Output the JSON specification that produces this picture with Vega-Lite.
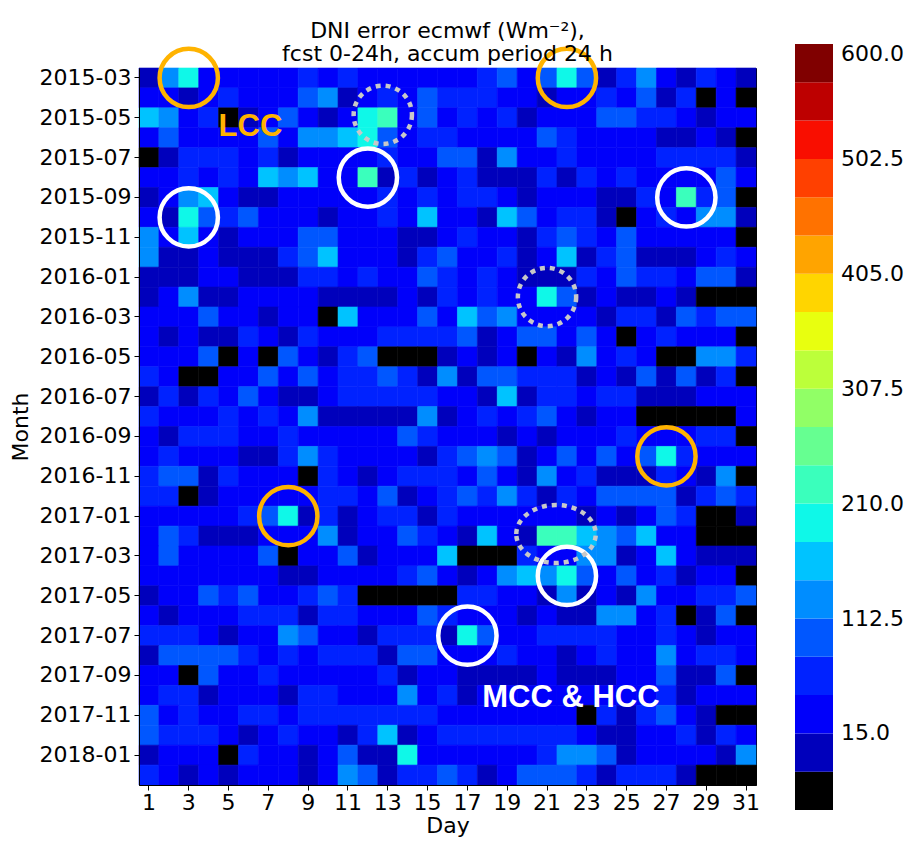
{
  "$schema": "https://vega.github.io/schema/vega-lite/v6.json",
  "width": 617,
  "height": 717,
  "autosize": {"type": "none"},
  "padding": {"left": 139, "top": 68, "right": 150, "bottom": 59},
  "background": "white",
  "title": {
    "text": ["DNI error ecmwf (Wm⁻²),", "fcst 0-24h, accum period 24 h"],
    "font": "DejaVu Sans",
    "fontSize": 22,
    "fontWeight": "normal",
    "color": "black",
    "anchor": "middle",
    "lineHeight": 23,
    "offset": -26
  },
  "config": {
    "view": {"stroke": "black", "strokeWidth": 1},
    "font": "DejaVu Sans",
    "axis": {
      "labelFont": "DejaVu Sans",
      "labelFontSize": 22,
      "labelColor": "black",
      "tickColor": "black",
      "tickSize": 5,
      "tickWidth": 1,
      "domainColor": "black",
      "titleFont": "DejaVu Sans",
      "titleFontSize": 22,
      "titleFontWeight": "normal",
      "titleColor": "black",
      "grid": false,
      "labelPadding": 3
    }
  },
  "encoding": {
    "x": {
      "field": "d",
      "type": "ordinal",
      "scale": {"domain": [1,2,3,4,5,6,7,8,9,10,11,12,13,14,15,16,17,18,19,20,21,22,23,24,25,26,27,28,29,30,31], "paddingInner": 0, "paddingOuter": 0},
      "axis": {"values": [1,3,5,7,9,11,13,15,17,19,21,23,25,27,29,31], "labelAngle": 0, "title": "Day", "titlePadding": 2, "labelPadding": 2}
    },
    "y": {
      "field": "m",
      "type": "ordinal",
      "scale": {"domain": ["2015-03","2015-04","2015-05","2015-06","2015-07","2015-08","2015-09","2015-10","2015-11","2015-12","2016-01","2016-02","2016-03","2016-04","2016-05","2016-06","2016-07","2016-08","2016-09","2016-10","2016-11","2016-12","2017-01","2017-02","2017-03","2017-04","2017-05","2017-06","2017-07","2017-08","2017-09","2017-10","2017-11","2017-12","2018-01","2018-02"], "paddingInner": 0, "paddingOuter": 0},
      "axis": {"values": ["2015-03","2015-05","2015-07","2015-09","2015-11","2016-01","2016-03","2016-05","2016-07","2016-09","2016-11","2017-01","2017-03","2017-05","2017-07","2017-09","2017-11","2018-01"], "title": "Month", "titlePadding": 7}
    }
  },
  "layer": [
    {
      "data": {"values": [
        {"m":"2015-03","d":[1,2,3,4,5,6,7,8,9,10,11,12,13,14,15,16,17,18,19,20,21,22,23,24,25,26,27,28,29,30,31],"v":[0,128,195,30,30,30,30,30,62,30,62,30,30,30,30,30,30,62,95,30,95,195,95,0,62,128,30,0,62,30,0]},
        {"m":"2015-04","d":[1,2,3,4,5,6,7,8,9,10,11,12,13,14,15,16,17,18,19,20,21,22,23,24,25,26,27,28,29,30,31],"v":[30,30,0,30,62,30,30,30,95,128,0,30,62,30,95,62,62,62,30,30,0,30,30,62,30,95,0,62,-30,30,-30]},
        {"m":"2015-05","d":[1,2,3,4,5,6,7,8,9,10,11,12,13,14,15,16,17,18,19,20,21,22,23,24,25,26,27,28,29,30,31],"v":[160,128,30,62,-30,0,30,95,30,0,30,195,225,30,95,30,62,30,62,0,30,30,30,95,95,62,62,30,0,30,30]},
        {"m":"2015-06","d":[1,2,3,4,5,6,7,8,9,10,11,12,13,14,15,16,17,18,19,20,21,22,23,24,25,26,27,28,29,30,31],"v":[30,95,30,30,30,30,95,30,128,128,160,195,95,30,62,62,30,30,30,30,95,62,30,30,30,30,0,0,30,0,-30]},
        {"m":"2015-07","d":[1,2,3,4,5,6,7,8,9,10,11,12,13,14,15,16,17,18,19,20,21,22,23,24,25,26,27,28,29,30,31],"v":[-30,0,62,62,62,30,62,0,30,30,30,30,62,30,30,95,95,0,128,30,30,62,30,30,30,30,62,62,62,62,0]},
        {"m":"2015-08","d":[1,2,3,4,5,6,7,8,9,10,11,12,13,14,15,16,17,18,19,20,21,22,23,24,25,26,27,28,29,30,31],"v":[30,30,62,30,62,30,160,128,160,30,30,225,0,62,0,30,62,0,0,0,62,0,62,30,62,30,30,30,30,95,30]},
        {"m":"2015-09","d":[1,2,3,4,5,6,7,8,9,10,11,12,13,14,15,16,17,18,19,20,21,22,23,24,25,26,27,28,29,30,31],"v":[0,30,128,160,30,0,0,30,30,30,30,30,62,30,62,30,62,62,30,0,30,30,30,0,0,62,30,225,62,95,-30]},
        {"m":"2015-10","d":[1,2,3,4,5,6,7,8,9,10,11,12,13,14,15,16,17,18,19,20,21,22,23,24,25,26,27,28,29,30,31],"v":[30,0,195,95,62,95,30,30,30,0,30,30,62,30,160,30,30,0,160,95,30,62,62,0,-30,30,62,30,128,128,0]},
        {"m":"2015-11","d":[1,2,3,4,5,6,7,8,9,10,11,12,13,14,15,16,17,18,19,20,21,22,23,24,25,26,27,28,29,30,31],"v":[128,30,160,30,0,30,30,30,95,95,30,30,30,0,0,30,62,30,30,0,62,95,62,30,95,30,30,30,30,30,-30]},
        {"m":"2015-12","d":[1,2,3,4,5,6,7,8,9,10,11,12,13,14,15,16,17,18,19,20,21,22,23,24,25,26,27,28,29,30,31],"v":[128,0,0,30,0,0,0,62,95,160,30,30,30,0,62,95,30,30,62,0,30,160,0,62,95,0,0,0,30,62,30]},
        {"m":"2016-01","d":[1,2,3,4,5,6,7,8,9,10,11,12,13,14,15,16,17,18,19,20,21,22,23,24,25,26,27,28,29,30,31],"v":[0,0,0,30,30,0,0,0,62,62,30,62,30,30,95,62,30,62,30,0,0,0,62,30,95,62,62,30,95,95,0]},
        {"m":"2016-02","d":[1,2,3,4,5,6,7,8,9,10,11,12,13,14,15,16,17,18,19,20,21,22,23,24,25,26,27,28,29,30,31],"v":[0,30,128,0,0,30,30,30,30,0,0,0,0,30,0,62,30,62,30,30,195,95,0,30,0,0,30,0,-30,-30,-30]},
        {"m":"2016-03","d":[1,2,3,4,5,6,7,8,9,10,11,12,13,14,15,16,17,18,19,20,21,22,23,24,25,26,27,28,29,30,31],"v":[30,30,30,95,30,30,0,30,30,-30,160,30,30,30,95,30,160,95,128,30,30,30,30,0,62,62,0,95,62,95,95]},
        {"m":"2016-04","d":[1,2,3,4,5,6,7,8,9,10,11,12,13,14,15,16,17,18,19,20,21,22,23,24,25,26,27,28,29,30,31],"v":[30,0,30,0,0,62,30,0,62,30,30,30,62,62,62,62,95,0,30,95,95,30,95,30,-30,30,62,30,30,30,-30]},
        {"m":"2016-05","d":[1,2,3,4,5,6,7,8,9,10,11,12,13,14,15,16,17,18,19,20,21,22,23,24,25,26,27,28,29,30,31],"v":[30,30,30,95,-30,30,-30,95,30,0,62,95,-30,-30,-30,0,30,0,30,-30,30,0,128,30,62,30,-30,-30,128,128,62]},
        {"m":"2016-06","d":[1,2,3,4,5,6,7,8,9,10,11,12,13,14,15,16,17,18,19,20,21,22,23,24,25,26,27,28,29,30,31],"v":[62,30,-30,-30,30,30,95,30,95,30,62,62,95,62,0,128,0,95,95,62,62,62,0,30,0,95,0,95,0,62,-30]},
        {"m":"2016-07","d":[1,2,3,4,5,6,7,8,9,10,11,12,13,14,15,16,17,18,19,20,21,22,23,24,25,26,27,28,29,30,31],"v":[0,62,0,62,30,95,30,0,0,30,62,62,62,62,62,30,30,0,160,0,62,62,30,62,62,0,0,0,30,30,30]},
        {"m":"2016-08","d":[1,2,3,4,5,6,7,8,9,10,11,12,13,14,15,16,17,18,19,20,21,22,23,24,25,26,27,28,29,30,31],"v":[62,30,30,30,62,30,62,30,128,0,0,0,0,0,128,0,30,62,30,62,95,30,0,30,30,-30,-30,-30,-30,-30,30]},
        {"m":"2016-09","d":[1,2,3,4,5,6,7,8,9,10,11,12,13,14,15,16,17,18,19,20,21,22,23,24,25,26,27,28,29,30,31],"v":[30,0,62,62,62,30,30,62,30,30,30,30,30,95,62,30,30,30,0,30,0,30,30,30,62,30,30,30,62,62,-30]},
        {"m":"2016-10","d":[1,2,3,4,5,6,7,8,9,10,11,12,13,14,15,16,17,18,19,20,21,22,23,24,25,26,27,28,29,30,31],"v":[30,62,30,30,30,0,0,62,128,62,30,30,30,30,0,62,95,128,95,0,30,95,30,95,30,95,195,62,30,30,30]},
        {"m":"2016-11","d":[1,2,3,4,5,6,7,8,9,10,11,12,13,14,15,16,17,18,19,20,21,22,23,24,25,26,27,28,29,30,31],"v":[62,95,95,0,62,30,30,30,-30,62,30,0,30,62,62,62,30,95,30,0,128,30,62,0,0,0,62,30,0,128,-30]},
        {"m":"2016-12","d":[1,2,3,4,5,6,7,8,9,10,11,12,13,14,15,16,17,18,19,20,21,22,23,24,25,26,27,28,29,30,31],"v":[62,62,-30,0,30,30,30,30,30,62,62,30,95,0,30,62,95,62,128,62,0,62,30,95,95,95,95,0,62,95,62]},
        {"m":"2017-01","d":[1,2,3,4,5,6,7,8,9,10,11,12,13,14,15,16,17,18,19,20,21,22,23,24,25,26,27,28,29,30,31],"v":[30,30,30,30,30,62,95,195,0,62,0,30,62,62,0,62,30,30,30,30,30,30,0,30,0,30,95,62,-30,-30,0]},
        {"m":"2017-02","d":[1,2,3,4,5,6,7,8,9,10,11,12,13,14,15,16,17,18,19,20,21,22,23,24,25,26,27,28,29,30,31],"v":[30,95,62,0,0,0,30,30,30,128,0,30,30,95,62,30,0,160,30,0,225,225,160,128,95,160,30,30,-30,-30,-30]},
        {"m":"2017-03","d":[1,2,3,4,5,6,7,8,9,10,11,12,13,14,15,16,17,18,19,20,21,22,23,24,25,26,27,28,29,30,31],"v":[30,95,30,30,30,30,95,-30,30,30,95,0,30,30,30,160,-30,-30,-30,62,30,30,128,128,0,30,160,30,0,0,0]},
        {"m":"2017-04","d":[1,2,3,4,5,6,7,8,9,10,11,12,13,14,15,16,17,18,19,20,21,22,23,24,25,26,27,28,29,30,31],"v":[30,30,30,30,30,30,30,0,0,30,30,30,30,62,95,30,0,30,128,160,128,195,95,30,95,30,62,0,30,30,-30]},
        {"m":"2017-05","d":[1,2,3,4,5,6,7,8,9,10,11,12,13,14,15,16,17,18,19,20,21,22,23,24,25,26,27,28,29,30,31],"v":[0,30,30,95,62,95,30,30,62,95,62,-30,-30,-30,-30,-30,62,62,30,30,0,128,0,30,0,128,30,30,62,62,95]},
        {"m":"2017-06","d":[1,2,3,4,5,6,7,8,9,10,11,12,13,14,15,16,17,18,19,20,21,22,23,24,25,26,27,28,29,30,31],"v":[30,0,30,30,30,62,62,62,0,62,62,30,30,30,95,62,30,30,30,0,30,0,0,128,128,30,62,-30,0,95,-30]},
        {"m":"2017-07","d":[1,2,3,4,5,6,7,8,9,10,11,12,13,14,15,16,17,18,19,20,21,22,23,24,25,26,27,28,29,30,31],"v":[62,62,62,30,0,30,30,128,95,30,30,0,62,62,62,0,195,95,30,30,62,62,62,62,30,30,62,30,0,30,30]},
        {"m":"2017-08","d":[1,2,3,4,5,6,7,8,9,10,11,12,13,14,15,16,17,18,19,20,21,22,23,24,25,26,27,28,29,30,31],"v":[0,95,95,95,95,62,30,62,30,62,62,62,0,95,95,30,30,30,62,30,30,0,30,62,30,30,128,30,62,62,30]},
        {"m":"2017-09","d":[1,2,3,4,5,6,7,8,9,10,11,12,13,14,15,16,17,18,19,20,21,22,23,24,25,26,27,28,29,30,31],"v":[30,30,-30,95,30,30,62,30,30,30,30,30,62,0,30,30,0,0,0,0,30,0,0,0,30,30,95,0,0,95,-30]},
        {"m":"2017-10","d":[1,2,3,4,5,6,7,8,9,10,11,12,13,14,15,16,17,18,19,20,21,22,23,24,25,26,27,28,29,30,31],"v":[30,62,62,0,30,30,30,0,62,62,30,30,30,128,30,62,0,30,30,30,30,30,30,30,30,30,62,0,30,30,30]},
        {"m":"2017-11","d":[1,2,3,4,5,6,7,8,9,10,11,12,13,14,15,16,17,18,19,20,21,22,23,24,25,26,27,28,29,30,31],"v":[95,30,62,30,30,62,62,30,62,62,62,62,62,62,62,30,30,30,30,30,30,30,-30,62,0,62,95,30,0,-30,-30]},
        {"m":"2017-12","d":[1,2,3,4,5,6,7,8,9,10,11,12,13,14,15,16,17,18,19,20,21,22,23,24,25,26,27,28,29,30,31],"v":[95,62,62,62,30,0,30,62,30,30,0,62,160,0,30,62,62,62,62,62,62,62,30,0,0,30,30,62,0,62,30]},
        {"m":"2018-01","d":[1,2,3,4,5,6,7,8,9,10,11,12,13,14,15,16,17,18,19,20,21,22,23,24,25,26,27,28,29,30,31],"v":[0,30,30,30,-30,62,30,30,0,30,95,0,0,195,30,30,30,30,30,30,62,128,128,95,0,30,30,30,30,0,128]},
        {"m":"2018-02","d":[1,2,3,4,5,6,7,8,9,10,11,12,13,14,15,16,17,18,19,20,21,22,23,24,25,26,27,28,29,30,31],"v":[62,30,0,30,0,30,30,30,0,30,128,95,0,62,62,95,62,0,30,95,95,95,62,0,62,62,62,0,-30,-30,-30]}
      ]},
      "transform": [{"flatten": ["d", "v"]}],
      "mark": {"type": "rect", "strokeWidth": 0.6},
      "encoding": {
        "color": {
          "field": "v",
          "type": "quantitative",
          "scale": {
            "type": "threshold",
            "domain": [-17.5,15,47.5,80,112.5,145,177.5,210,242.5,275,307.5,340,372.5,405,437.5,470,502.5,535,567.5],
            "range": ["#000000","#0000BC","#0000FA","#0022FF","#0057FF","#008DFF","#00C3FF","#0FF8E8","#3AFFBC","#66FF91","#91FF66","#BCFF3A","#E8FF0F","#FFD500","#FFA400","#FF7200","#FF4000","#F90E00","#BD0000","#800000"]
          },
          "legend": {
            "type": "gradient",
            "orient": "none",
            "legendX": 656,
            "legendY": -24,
            "direction": "vertical",
            "gradientLength": 766,
            "gradientThickness": 38,
            "gradientStrokeWidth": 0,
            "values": [-50,-17.5,15,47.5,80,112.5,145,177.5,210,242.5,275,307.5,340,372.5,405,437.5,470,502.5,535,567.5,600],
            "format": ".1f",
            "labelExpr": "indexof(['15.0','112.5','210.0','307.5','405.0','502.5','600.0'], datum.label) >= 0 ? datum.label : ''",
            "labelFont": "DejaVu Sans",
            "labelFontSize": 22,
            "labelColor": "black",
            "labelOffset": 8,
            "labelBaseline": "middle",
            "labelOverlap": false,
            "title": null
          }
        },
        "stroke": {
          "field": "v",
          "type": "quantitative",
          "scale": {
            "type": "threshold",
            "domain": [-17.5,15,47.5,80,112.5,145,177.5,210,242.5,275,307.5,340,372.5,405,437.5,470,502.5,535,567.5],
            "range": ["#000000","#0000BC","#0000FA","#0022FF","#0057FF","#008DFF","#00C3FF","#0FF8E8","#3AFFBC","#66FF91","#91FF66","#BCFF3A","#E8FF0F","#FFD500","#FFA400","#FF7200","#FF4000","#F90E00","#BD0000","#800000"]
          },
          "legend": null
        }
      }
    },
    {
      "data": {"values": [{"d":3,"m":"2015-03"},{"d":22,"m":"2015-03"},{"d":27,"m":"2016-10"},{"d":8,"m":"2017-01"}]},
      "mark": {"type": "point", "shape": "circle", "filled": false, "color": "#FFB300", "stroke": "#FFB300", "strokeWidth": 4.5, "size": 3400, "opacity": 1}
    },
    {
      "data": {"values": [{"d":12,"m":"2015-08"},{"d":3,"m":"2015-10"},{"d":28,"m":"2015-09"},{"d":22,"m":"2017-04"},{"d":17,"m":"2017-07"}]},
      "mark": {"type": "point", "shape": "circle", "filled": false, "color": "white", "stroke": "white", "strokeWidth": 4.5, "size": 3400, "opacity": 1}
    },
    {
      "data": {"values": [{"d":13,"m":"2015-05"}]},
      "mark": {"type": "point", "shape": "circle", "filled": false, "color": "#C8C8C8", "stroke": "#C8C8C8", "strokeWidth": 4.5, "strokeDash": [5, 5], "size": 3400, "opacity": 1, "xOffset": -5, "yOffset": -3}
    },
    {
      "data": {"values": [{"d":21,"m":"2016-02"}]},
      "mark": {"type": "point", "shape": "circle", "filled": false, "color": "#C8C8C8", "stroke": "#C8C8C8", "strokeWidth": 4.5, "strokeDash": [5, 5], "size": 3400, "opacity": 1}
    },
    {
      "data": {"values": [{"d":21,"m":"2017-02"}]},
      "mark": {"type": "point", "shape": "M -1.37 0 A 1.37 1 0 1 1 1.37 0 A 1.37 1 0 1 1 -1.37 0 Z", "filled": false, "color": "#C8C8C8", "stroke": "#C8C8C8", "strokeWidth": 4.5, "strokeDash": [5, 5], "size": 3364, "opacity": 1, "xOffset": 9, "yOffset": -2}
    },
    {
      "data": {"values": [{"d":6,"m":"2015-05","label":"LCC"}]},
      "mark": {"type": "text", "font": "Liberation Sans", "fontWeight": "bold", "fontSize": 31, "color": "#FFB300", "baseline": "middle", "align": "center", "dx": 2, "dy": 9},
      "encoding": {"text": {"field": "label"}}
    },
    {
      "data": {"values": [{"d":22,"m":"2017-10","label":"MCC & HCC"}]},
      "mark": {"type": "text", "font": "Liberation Sans", "fontWeight": "bold", "fontSize": 31, "color": "white", "baseline": "middle", "align": "center", "dx": 4, "dy": 3},
      "encoding": {"text": {"field": "label"}}
    }
  ]
}
